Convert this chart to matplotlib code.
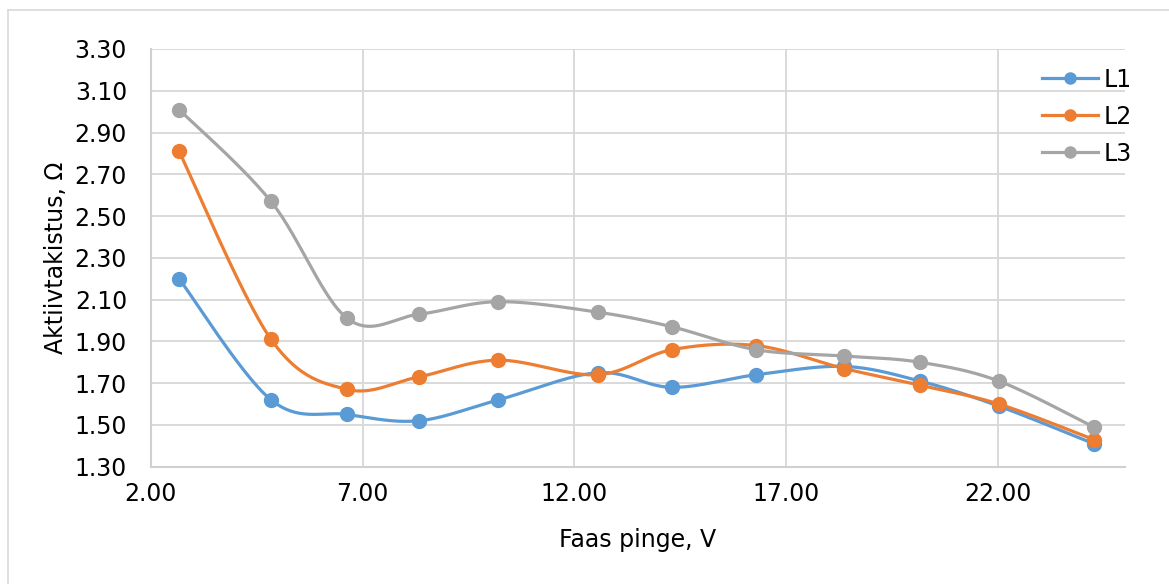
import numpy as np
import matplotlib
matplotlib.use("Agg")
import matplotlib.pyplot as plt
from matplotlib.lines import Line2D

# Measured phase voltage (V) and active resistance (Ohm) per phase
voltage = [2.67, 4.84, 6.64, 8.33, 10.21, 12.55, 14.30, 16.29, 18.37, 20.16, 22.02, 24.26]
r_l1 = [2.20, 1.62, 1.55, 1.52, 1.62, 1.75, 1.68, 1.74, 1.78, 1.71, 1.59, 1.41]
r_l2 = [2.81, 1.91, 1.67, 1.73, 1.81, 1.74, 1.86, 1.88, 1.77, 1.69, 1.60, 1.43]
r_l3 = [3.01, 2.57, 2.01, 2.03, 2.09, 2.04, 1.97, 1.86, 1.83, 1.80, 1.71, 1.49]
series_names = ["L1", "L2", "L3"]
colors = ["#5B9BD5", "#ED7D31", "#A5A5A5"]
x_ticks = [2.0, 7.0, 12.0, 17.0, 22.0]
y_ticks = [1.30, 1.50, 1.70, 1.90, 2.10, 2.30, 2.50, 2.70, 2.90, 3.10, 3.30]


def smooth_curve(x, y, steps=30):
    """Catmull-Rom style Bezier smoothing between consecutive points."""
    x = np.asarray(x, float)
    y = np.asarray(y, float)
    n = len(x)
    pts = np.column_stack([x, y])
    out = [pts[0]]
    t = np.linspace(0, 1, steps)[1:]
    for i in range(n - 1):
        p0 = pts[i - 1] if i > 0 else pts[i]
        p1 = pts[i]
        p2 = pts[i + 1]
        p3 = pts[i + 2] if i + 2 < n else pts[i + 1]
        c1 = p1 + (p2 - p0) / 6.0
        c2 = p2 - (p3 - p1) / 6.0
        seg = ((1 - t) ** 3)[:, None] * p1 + (3 * (1 - t) ** 2 * t)[:, None] * c1 \
            + (3 * (1 - t) * t ** 2)[:, None] * c2 + (t ** 3)[:, None] * p2
        out.extend(seg)
    out = np.array(out)
    return out[:, 0], out[:, 1]


plt.rcParams["font.family"] = ["DejaVu Sans"]
fig = plt.figure(figsize=(11.69, 5.84), dpi=100)
ax = fig.add_axes([0.1289, 0.2009, 0.8335, 0.7152])

for yv, name, col in zip([r_l1, r_l2, r_l3], series_names, colors):
    sx, sy = smooth_curve(voltage, yv)
    ax.plot(sx, sy, color=col, lw=2.3, solid_capstyle="round", zorder=3)
    ax.plot(voltage, yv, ls="none", marker="o", ms=10, color=col, zorder=4)

ax.set_xlim(2.0, 25.0)
ax.set_ylim(1.30, 3.30)
ax.set_xticks(x_ticks)
ax.set_yticks(y_ticks)
ax.set_xticklabels([f"{v:.2f}" for v in x_ticks])
ax.set_yticklabels([f"{v:.2f}" for v in y_ticks])
ax.tick_params(axis="both", length=0, labelsize=17, colors="#000000")
ax.tick_params(axis="y", pad=17)
ax.tick_params(axis="x", pad=11)

ax.grid(True, color="#D9D9D9", lw=1.4, zorder=0)
ax.set_axisbelow(True)
for side in ["top", "right"]:
    ax.spines[side].set_visible(False)
for side in ["left", "bottom"]:
    ax.spines[side].set_color("#D0D0D0")
    ax.spines[side].set_linewidth(1.5)

ax.set_xlabel("Faas pinge, V", fontsize=17)
ax.set_ylabel("Aktiivtakistus, Ω", fontsize=17)
ax.xaxis.set_label_coords(0.5, -0.147)
ax.yaxis.set_label_coords(-0.085, 0.5)

handles = [Line2D([0], [0], color=c, lw=2.3, marker="o", ms=8) for c in colors]
ax.legend(handles, series_names, loc="upper left", bbox_to_anchor=(0.9055, 0.978),
          frameon=False, fontsize=17, handlelength=2.35, handletextpad=0.25,
          labelspacing=0.55, borderaxespad=0)

# light outer chart border
fig.add_artist(Line2D([7.5 / 1169, 1.0], [1 - 9.5 / 584, 1 - 9.5 / 584],
                      transform=fig.transFigure, color="#D9D9D9", lw=1.2))
fig.add_artist(Line2D([7.5 / 1169, 7.5 / 1169], [0.0, 1 - 9.5 / 584],
                      transform=fig.transFigure, color="#D9D9D9", lw=1.2))

fig.savefig("out.png", dpi=100)
